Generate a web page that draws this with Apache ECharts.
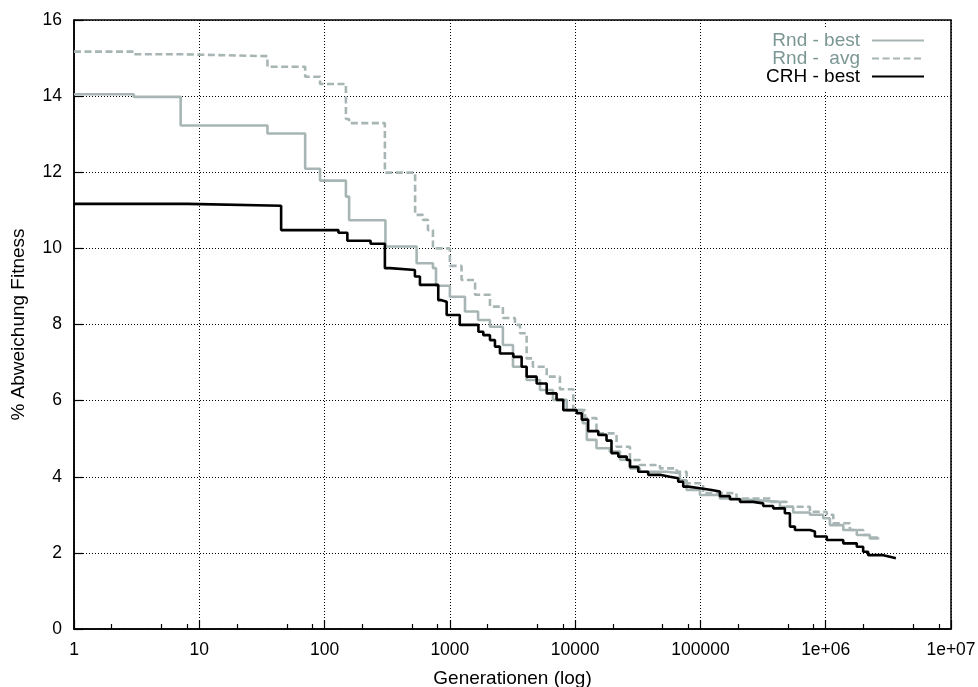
<!DOCTYPE html>
<html>
<head>
<meta charset="utf-8">
<script src="https://cdn.jsdelivr.net/npm/echarts@6/dist/echarts.min.js"></script>
<style>html,body{margin:0;padding:0;background:#fff}#c{width:978px;height:687px}</style>
</head>
<body>
<div id="c"></div>
<script>
// ---- data ----
const seriesNames = ['Rnd - best', 'Rnd -  avg', 'CRH - best'];
const xTickLabels = ['1', '10', '100', '1000', '10000', '100000', '1e+06', '1e+07'];
const xMinorTickMantissas = [2, 5, 8];
const yTicks = [0, 2, 4, 6, 8, 10, 12, 14, 16];

const rndBestGen = [1, 3, 7.1, 35, 70, 92, 148, 157, 306, 543, 733, 775, 1000, 1320, 1680, 2090, 2650, 3190, 4100, 5240, 6650, 8560, 11500, 12400, 14800, 18900, 22800, 27400, 32900, 53700, 68600, 77600, 99100, 143000, 183000, 264000, 431000, 550000, 748000, 955000, 1080000, 1380000, 1770000, 2250000, 2630000];
const rndBestVal = [14.05, 13.98, 13.23, 13.02, 12.09, 11.78, 11.36, 10.74, 10.05, 9.61, 9.48, 9.02, 8.73, 8.34, 8.12, 7.94, 7.46, 6.89, 6.54, 6.28, 6.02, 5.75, 5.41, 4.97, 4.75, 4.66, 4.45, 4.22, 4.13, 4.09, 3.91, 3.65, 3.52, 3.43, 3.39, 3.34, 3.21, 3.06, 3.0, 2.91, 2.73, 2.60, 2.47, 2.38, 2.36];

const rndAvgGen = [1, 3, 7.1, 35, 70, 92, 148, 157, 303, 528, 610, 668, 733, 1000, 1240, 1590, 2090, 2650, 3310, 3630, 4100, 4600, 5930, 7560, 9660, 12000, 14800, 21400, 27400, 32900, 47500, 64600, 77600, 105000, 194000, 359000, 488000, 748000, 1020000, 1150000, 1560000, 1990000, 2300000, 2650000];
const rndAvgVal = [15.17, 15.10, 15.05, 14.77, 14.51, 14.32, 13.4, 13.29, 11.99, 10.88, 10.75, 10.48, 10.0, 9.54, 9.17, 8.78, 8.47, 8.17, 7.99, 7.77, 7.11, 6.89, 6.63, 6.30, 5.75, 5.54, 5.14, 4.79, 4.44, 4.31, 4.22, 4.13, 3.83, 3.57, 3.43, 3.34, 3.21, 3.08, 3.0, 2.78, 2.60, 2.47, 2.40, 2.40];

const crhGen = [1, 8.1, 45, 129, 152, 233, 303, 333, 526, 577, 808, 860, 943, 1200, 1690, 1850, 2090, 2290, 2510, 3210, 3740, 4100, 4930, 5930, 7110, 8040, 10300, 11300, 12700, 15300, 17800, 19500, 22100, 25800, 27400, 31900, 38300, 47500, 57100, 66500, 72900, 80000, 99100, 123000, 143000, 172000, 207000, 264000, 317000, 381000, 472000, 518000, 568000, 748000, 820000, 1020000, 1380000, 1770000, 1990000, 2180000, 2880000, 3250000, 3630000];
const crhVal = [11.17, 11.12, 10.48, 10.41, 10.20, 10.12, 9.48, 9.43, 9.26, 9.04, 8.64, 8.60, 8.25, 7.99, 7.81, 7.72, 7.59, 7.42, 7.24, 7.15, 6.89, 6.63, 6.45, 6.19, 6.02, 5.75, 5.67, 5.50, 5.20, 5.10, 4.95, 4.62, 4.53, 4.44, 4.26, 4.13, 4.05, 4.0, 3.96, 3.87, 3.74, 3.70, 3.65, 3.61, 3.49, 3.41, 3.34, 3.30, 3.23, 3.17, 3.04, 2.69, 2.60, 2.56, 2.43, 2.34, 2.25, 2.16, 2.03, 1.94, 1.90, 1.86, 1.86];

// ---- build ----
const zip = (xs, ys) => xs.map((x, i) => [x, ys[i]]);
const minorTickPos = [];
for (let d = 0; d < xTickLabels.length - 1; d++) {
  xMinorTickMantissas.forEach(m => minorTickPos.push(d + Math.log10(m)));
}
const FONT = "'Liberation Sans', Arial, Helvetica, sans-serif";
const GREY = '#a7b6b4';
const GREY_TEXT = '#7b9794';
const LW = 2.6;

const chart = echarts.init(document.getElementById('c'), null, { renderer: 'canvas' });
chart.setOption({
  animation: false,
  backgroundColor: '#fff',
  textStyle: { fontFamily: FONT },
  grid: {
    left: 74, right: 27, top: 20, bottom: 58, show: true,
    borderColor: '#000', borderWidth: 1.5, containLabel: false, outerBoundsMode: 'none'
  },
  legend: {
    orient: 'vertical',
    align: 'right',
    right: 45,
    top: 27,
    padding: [4, 8, 4, 8],
    backgroundColor: '#fff',
    itemWidth: 52,
    itemHeight: 10,
    itemGap: -1,
    selectedMode: false,
    itemStyle: { opacity: 0 },
    textStyle: { fontFamily: FONT, fontSize: 19, lineHeight: 17.5, padding: [0, 7, 0, 0] },
    data: [
      { name: seriesNames[0], textStyle: { color: GREY_TEXT } },
      { name: seriesNames[1], textStyle: { color: GREY_TEXT } },
      { name: seriesNames[2], textStyle: { color: '#000' } }
    ]
  },
  xAxis: [
    {
      type: 'log', logBase: 10, min: 1, max: 1e7, splitNumber: 7,
      name: 'Generationen (log)', nameLocation: 'middle', nameGap: 40,
      nameTextStyle: { fontSize: 19, color: '#000', fontFamily: FONT },
      axisLine: { show: true, lineStyle: { color: '#000', width: 1.5 } },
      axisTick: { show: true, inside: true, length: 9, lineStyle: { color: '#000', width: 1.2 } },
      axisLabel: {
        fontSize: 17.5, color: '#000', margin: 12, fontFamily: FONT,
        formatter: v => xTickLabels[Math.round(Math.log10(v))]
      },
      splitLine: { show: true, lineStyle: { color: '#000', width: 1, type: [1, 2] } }
    },
    {
      type: 'value', min: 0, max: 7, position: 'bottom',
      axisLine: { show: false }, axisLabel: { show: false }, splitLine: { show: false },
      axisTick: { show: true, inside: true, length: 5, customValues: minorTickPos, lineStyle: { color: '#000', width: 1.2 } }
    }
  ],
  yAxis: {
    type: 'value', min: yTicks[0], max: yTicks[yTicks.length - 1], interval: 2,
    name: '% Abweichung Fitness', nameLocation: 'middle', nameGap: 46,
    nameTextStyle: { fontSize: 19, color: '#000', fontFamily: FONT },
    axisLine: { show: true, lineStyle: { color: '#000', width: 1.5 } },
    axisTick: { show: true, inside: true, length: 9, lineStyle: { color: '#000', width: 1.2 } },
    axisLabel: { fontSize: 17.5, color: '#000', margin: 12, fontFamily: FONT },
    splitLine: { show: true, lineStyle: { color: '#000', width: 1, type: [1, 2] } }
  },
  series: [
    {
      name: seriesNames[0], type: 'line', step: 'end', symbol: 'none', xAxisIndex: 0,
      data: zip(rndBestGen, rndBestVal),
      lineStyle: { color: GREY, width: LW }, itemStyle: { color: GREY }
    },
    {
      name: seriesNames[1], type: 'line', step: 'end', symbol: 'none', xAxisIndex: 0,
      data: zip(rndAvgGen, rndAvgVal),
      lineStyle: { color: GREY, width: LW, type: [7, 3.5] }, itemStyle: { color: GREY }
    },
    {
      name: seriesNames[2], type: 'line', step: 'end', symbol: 'none', xAxisIndex: 0,
      data: zip(crhGen, crhVal),
      lineStyle: { color: '#000', width: LW }, itemStyle: { color: '#000' }
    }
  ]
});
</script>
</body>
</html>
